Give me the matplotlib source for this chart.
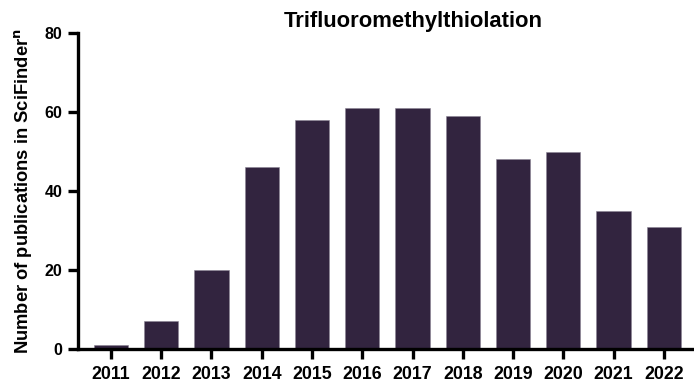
import matplotlib
matplotlib.use("Agg")
import matplotlib.pyplot as plt
import numpy as np

years = ["2011", "2012", "2013", "2014", "2015", "2016",
         "2017", "2018", "2019", "2020", "2021", "2022"]
publications = [1, 7, 20, 46, 58, 61, 61, 59, 48, 50, 35, 31]

plt.rcParams["font.family"] = ["Liberation Sans", "DejaVu Sans"]
plt.rcParams["font.weight"] = "bold"

fig = plt.figure(figsize=(6.94, 3.79), dpi=100)
ax = fig.add_axes([78 / 694, 1 - 349 / 379, (694 - 78) / 694, 316 / 379])

x = np.arange(len(years))
ax.bar(x, publications, width=0.68, color="#32243F", edgecolor="#8a8494",
       linewidth=0.4, zorder=2)

ax.set_xlim(-0.656, 11.6)
ax.set_ylim(0, 80)
ax.set_xticks(x)
ax.set_xticklabels(years)
ax.set_yticks([0, 20, 40, 60, 80])

for side in ("top", "right"):
    ax.spines[side].set_visible(False)
for side in ("left", "bottom"):
    ax.spines[side].set_linewidth(2.4)
    ax.spines[side].set_color("black")

ax.tick_params(axis="both", length=7, width=2.4)
ax.tick_params(axis="x", labelsize=12.8, pad=5.5)
ax.tick_params(axis="y", labelsize=11.5, pad=4)
for lbl in ax.get_xticklabels() + ax.get_yticklabels():
    lbl.set_fontweight("bold")

ax.set_ylabel(r"Number of publications in SciFinder$^{\mathbf{n}}$",
              fontsize=13.2, fontweight="bold", labelpad=8)
ax.set_title("Trifluoromethylthiolation", fontsize=15.8, fontweight="bold",
             pad=4, x=(413 - 78) / (694 - 78))

fig.savefig("out.png", dpi=100)
